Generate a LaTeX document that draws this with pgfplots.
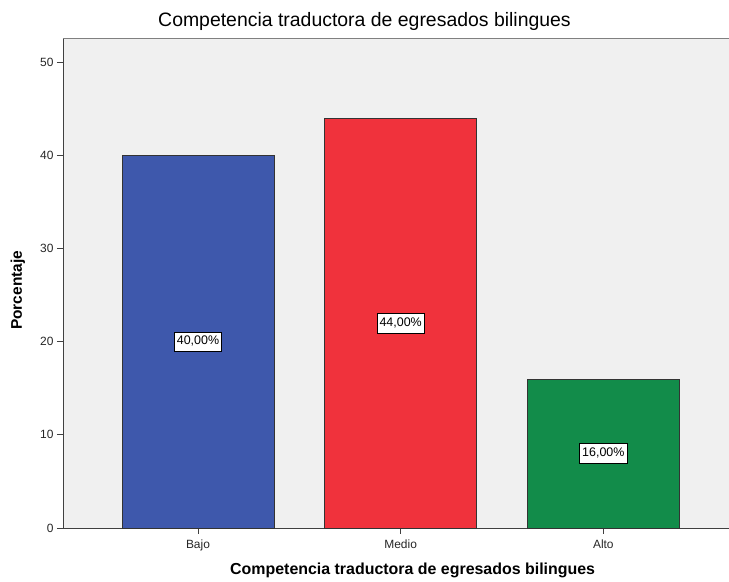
\documentclass[border=0pt]{standalone}
\usepackage{pgfplots}
\pgfplotsset{compat=1.18}
\usepackage{fontspec}
\setmainfont{Liberation Sans}
\definecolor{bgc}{HTML}{F0F0F0}
\definecolor{cbajo}{HTML}{3E58AC}
\definecolor{cmedio}{HTML}{F0323C}
\definecolor{calto}{HTML}{128C4A}
\begin{document}
\begin{tikzpicture}[x=1bp,y=1bp]
\useasboundingbox (-63bp,-54bp) rectangle (666bp,528bp);
\begin{axis}[
  at={(0,0)}, anchor=origin,
  scale only axis, width=666bp, height=490bp,
  xmin=0.334, xmax=3.62, ymin=0, ymax=52.6,
  xtick={1,2,3}, xticklabels={Bajo,Medio,Alto},
  ytick={0,10,20,30,40,50},
  axis x line*=bottom, axis y line*=left,
  axis line style={draw=black!75,-},
  axis background/.style={fill=bgc},
  tick align=outside, major tick length=6bp,
  tick style={draw=black!75, line width=0.8pt},
  tick label style={font=\fontsize{12}{14}\selectfont, text=black!85},
  xticklabel style={yshift=-2bp},
  /pgf/number format/assume math mode=true,
  xlabel={Competencia traductora de egresados bilingues},
  ylabel={Porcentaje},
  xlabel style={font=\bfseries\fontsize{16}{18}\selectfont, at={(axis description cs:0.525,0)}, anchor=center, yshift=-42bp},
  ylabel style={font=\bfseries\fontsize{15.5}{17}\selectfont, at={(axis description cs:0,0.485)}, anchor=center, rotate=0, yshift=45bp},
  every axis title shift=0pt,
  title={Competencia traductora de egresados bilingues},
  title style={font=\fontsize{19.5}{22}\selectfont, at={(axis description cs:0.4527,1)}, anchor=center, yshift=17bp},
  clip=false,
]
\addplot[ybar, bar width=0.75, bar shift=0pt, fill=cbajo, draw=black!80, line width=0.7pt] coordinates {(1,40)};
\addplot[ybar, bar width=0.75, bar shift=0pt, fill=cmedio, draw=black!80, line width=0.7pt] coordinates {(2,44)};
\addplot[ybar, bar width=0.75, bar shift=0pt, fill=calto, draw=black!80, line width=0.7pt] coordinates {(3,16)};
\addplot[draw=none, mark=none, nodes near coords, point meta=explicit symbolic,
  every node near coord/.style={anchor=center, fill=white, draw=black, line width=0.6pt, inner xsep=2.5bp, inner ysep=4bp, text height=9bp, text depth=2.5bp, font=\fontsize{12.5}{14}\selectfont}]
  coordinates {(1,20)[40,00\%] (2,22)[44,00\%] (3,8)[16,00\%]};
\draw[black!50, line width=0.8pt] (rel axis cs:0,1) -- (rel axis cs:1,1);
\end{axis}
\end{tikzpicture}
\end{document}
